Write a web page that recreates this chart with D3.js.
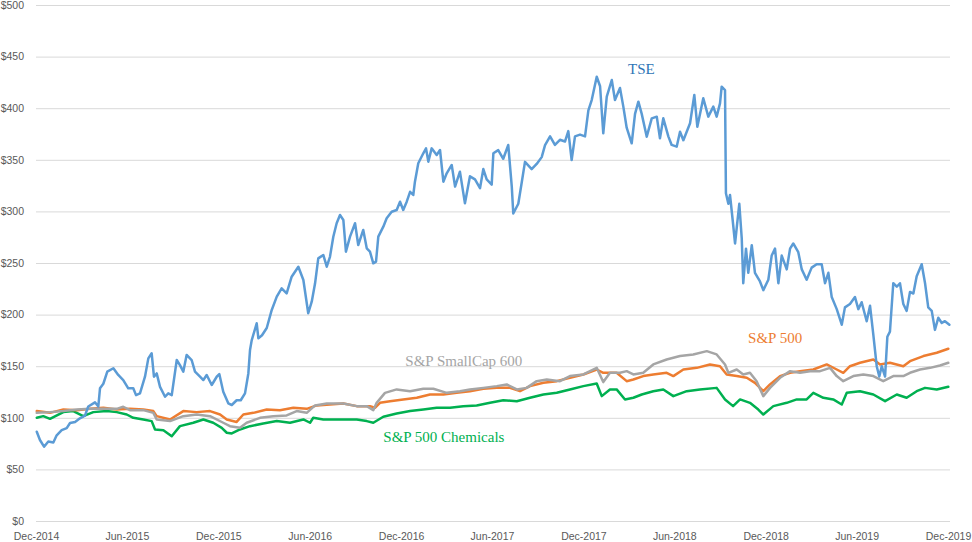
<!DOCTYPE html>
<html>
<head>
<meta charset="utf-8">
<script src="https://cdn.jsdelivr.net/npm/d3@7"></script>
<style>
  body { margin: 0; background: #fff; }
  .tick text { font-family: "Liberation Sans", Arial, sans-serif; font-size: 10.5px; fill: #595959; }
  .series_label { font-family: "Liberation Serif", "Times New Roman", serif; font-size: 15px; }
</style>
</head>
<body>
<svg id="chart" width="972" height="542"></svg>
<script>
// points are [months after Dec-2014, value of $100 invested]
const tse = [
  [0.05,86.5],[0.26,78.5],[0.53,72],[0.81,77],[1.14,76],[1.36,83],[1.69,88],[2.02,90],[2.24,95],[2.57,96],
  [2.89,99.5],[3.22,102],[3.44,111],[3.88,115],[4.10,111],[4.21,128.6],[4.43,133],[4.69,144.7],[5.09,148],
  [5.41,141.5],[5.74,136.6],[6.07,128.6],[6.40,128.6],[6.58,122],[6.84,123.7],[7.17,139.8],[7.39,157.6],
  [7.61,162.5],[7.76,139.8],[7.94,143],[8.16,130],[8.49,120.4],[8.70,123.7],[8.93,122],[9.26,156],[9.47,151],
  [9.69,144.7],[9.91,160.9],[10.24,156],[10.46,144.7],[10.79,139.8],[11.01,136.6],[11.23,141.5],[11.56,131.8],
  [11.89,139.8],[12.06,142.4],[12.32,125.3],[12.65,114],[12.88,112.4],[13.20,117],[13.47,117],[13.75,123.7],
  [13.97,143],[14.08,165.7],[14.19,175],[14.52,191.6],[14.63,177],[14.87,180],[15.18,187],[15.51,204.5],
  [15.84,217.4],[16.16,225.5],[16.49,220.6],[16.82,236.7],[17.26,246.4],[17.59,233.5],[17.91,201.3],
  [18.14,212.5],[18.36,230.3],[18.57,254.5],[18.90,257.8],[19.13,246.4],[19.34,256],[19.56,275.5],
  [19.78,288.5],[20.00,296.5],[20.22,291.7],[20.39,261],[20.66,275.5],[20.99,288.5],[21.20,267.4],
  [21.53,282],[21.76,264.2],[21.97,261],[22.19,249.7],[22.37,251.3],[22.52,275.5],[22.85,285.2],[23.07,293.3],
  [23.40,299.7],[23.73,301.4],[23.95,309.4],[24.16,301.4],[24.39,309.4],[24.61,319],[24.82,315.9],[24.93,328.8],
  [25.15,346.6],[25.48,356.3],[25.66,361.1],[25.81,348.2],[26.03,361.1],[26.36,354.7],[26.58,359.5],
  [26.80,328.8],[27.02,336.9],[27.35,345],[27.57,324],[27.89,338.5],[28.22,307.8],[28.55,334],[28.88,331],
  [29.21,322.5],[29.43,341],[29.65,331],[29.98,326],[30.09,356.3],[30.41,359.4],[30.74,351],[31.07,364.3],
  [31.30,324.2],[31.40,298],[31.73,307.4],[31.95,327.5],[32.17,348],[32.61,341],[32.94,346],[33.27,352.6],
  [33.49,364.3],[33.82,372.7],[34.14,364.4],[34.47,369.4],[34.80,367.7],[35.02,377.8],[35.24,349.8],
  [35.46,372.7],[35.79,374.4],[36.12,372.7],[36.34,397.9],[36.56,407.9],[36.89,430.5],[37.11,421.3],
  [37.32,375.7],[37.55,411.3],[37.88,427.3],[38.09,407.9],[38.42,419.6],[38.64,401.5],[38.86,381.1],
  [39.19,366],[39.41,394.5],[39.63,406.3],[39.85,394.5],[40.18,372.4],[40.51,390.2],[40.84,391.8],
  [41.05,370.8],[41.27,390.2],[41.60,372.7],[41.82,364.4],[42.15,362.7],[42.37,377.2],[42.59,369],
  [43.03,385.4],[43.31,412.8],[43.51,382],[43.90,409.6],[44.23,391.8],[44.56,401.5],[44.78,391.8],
  [45.00,404.7],[45.11,420.8],[45.33,417.6],[45.39,317.5],[45.55,307.4],[45.66,315.8],[45.84,290.7],
  [45.99,268.9],[46.10,284],[46.27,307.4],[46.43,274],[46.53,230.4],[46.71,263.9],[46.86,240.5],
  [47.09,267.3],[47.30,240.5],[47.63,232.1],[47.85,223.7],[48.18,233.8],[48.40,257.2],[48.62,263.9],
  [48.84,230.4],[49.06,257.2],[49.39,243.8],[49.61,263.9],[49.82,268.9],[50.15,260.5],[50.38,243.8],
  [50.70,233.8],[51.03,245.5],[51.36,248.8],[51.69,248.8],[51.91,230.4],[52.13,240.5],[52.35,217],
  [52.68,205.3],[53.01,190.2],[53.22,207],[53.55,210.3],[53.88,217],[54.10,205.3],[54.32,212],[54.65,193.6],
  [54.87,208.6],[55.09,180.2],[55.31,150],[55.48,140],[55.64,150],[55.86,140],[56.01,178.5],[56.18,183.5],
  [56.40,230.4],[56.63,227],[56.84,230.4],[57.06,210.3],[57.28,203.6],[57.50,222],[57.72,220.4],[57.94,237.1],
  [58.27,248.8],[58.49,230.4],[58.70,207],[58.93,203.6],[59.14,185.2],[59.36,196.9],[59.59,191.9],
  [59.80,193.6],[60.09,190.2]
];

const sp500 = [
  [0.05,106.5],[0.92,104.8],[1.80,108],[2.68,107.4],[3.55,108.7],[4.43,109.7],[5.31,108],[6.18,108.7],
  [7.06,108],[7.72,106.5],[7.94,101.6],[8.82,98.4],[9.69,106.5],[10.57,105.5],[11.45,106.5],[12.11,103.2],
  [12.55,98.4],[13.20,96],[13.64,103.2],[14.30,104.8],[15.18,108],[16.05,107.4],[16.93,109.7],[17.81,108.7],
  [18.47,112],[19.34,112.9],[20.22,113.9],[21.10,111.3],[21.97,111.3],[22.30,109.7],[22.63,114.5],
  [23.29,116.1],[24.16,117.8],[25.05,119.4],[25.92,122.6],[26.80,122.6],[27.68,124.2],[28.55,125.8],
  [29.43,128.1],[30.31,129],[31.18,129],[31.84,125.8],[32.50,130.7],[33.38,133.9],[34.26,135.5],
  [35.13,138.8],[36.01,142],[36.89,146.8],[37.32,143.6],[38.20,143.6],[38.86,135.5],[39.30,137.1],
  [39.95,140.4],[40.61,142],[41.49,143.6],[41.93,140.4],[42.59,146.8],[43.47,148.4],[44.34,151.7],
  [45.00,150],[45.44,142],[46.10,140.4],[46.76,138.8],[47.30,133.9],[47.85,125.8],[48.29,132.3],
  [48.95,140.4],[49.61,143.6],[50.26,145.2],[51.14,146.8],[52.02,151.7],[52.68,146.8],[53.11,143.6],
  [53.55,150],[54.21,153.3],[55.09,156.5],[55.53,151.7],[56.18,153.3],[57.06,150],[57.50,154.9],
  [58.38,159.8],[59.26,163],[60.02,166.9]
];

const smallCap600 = [
  [0.05,104.8],[0.92,105.5],[1.80,106.5],[2.68,108],[3.55,108.7],[4.43,108.7],[5.31,108.7],[5.74,110.7],
  [6.18,107.4],[7.06,107.4],[7.72,104.8],[7.94,98.4],[8.82,96.8],[9.69,101.6],[10.57,103.2],[11.45,101.6],
  [12.32,95.2],[12.76,91.9],[13.42,90.3],[13.86,95.2],[14.74,100],[15.61,101.6],[16.49,102.3],[17.15,106.5],
  [17.81,104.8],[18.36,112],[19.13,113.9],[20.22,113.9],[21.10,111.3],[21.76,111.3],[22.19,107.4],
  [22.41,114.5],[22.96,124.2],[23.73,127.5],[24.61,125.8],[25.48,128.1],[26.14,128.1],[27.02,124.2],
  [27.89,125.8],[28.55,127.5],[29.43,129],[30.31,130.7],[30.97,132.3],[31.63,127.5],[32.28,129],
  [32.94,135.5],[33.60,137.1],[34.47,135.5],[35.13,140.4],[36.01,142],[36.89,148.4],[37.32,134.6],
  [37.76,143.6],[38.42,143.6],[38.86,145.2],[39.30,142],[39.95,143.6],[40.61,151.7],[41.49,156.5],
  [42.37,159.8],[43.24,161.4],[44.13,164.6],[44.78,161.4],[45.33,151.7],[45.55,143.6],[46.10,146.8],
  [46.53,142],[46.97,143.6],[47.41,135.5],[47.85,121],[48.29,129],[48.95,138.8],[49.61,145.2],[50.26,143.6],
  [50.92,145.2],[51.58,145.2],[52.24,148.4],[52.68,140.4],[53.11,135.5],[53.77,140.4],[54.43,142],
  [55.09,140.4],[55.74,135.5],[56.40,140.4],[57.06,140.4],[57.50,143.6],[58.16,146.8],[58.82,148.4],
  [59.47,150.7],[60.02,153.3]
];

const chemicals500 = [
  [0.05,100],[0.48,101.6],[0.92,99],[1.80,105.5],[2.45,106.5],[3.11,101.6],[3.77,105.5],[4.65,106.5],
  [5.31,105.5],[5.97,103.2],[6.40,100],[7.06,98.4],[7.61,96.8],[7.83,88.7],[8.38,88],[8.93,82.2],[9.47,91.9],
  [10.35,95.2],[11.01,98.4],[11.66,95.2],[12.22,90.3],[12.55,85.5],[12.88,84.8],[13.42,88.7],[14.08,91.9],
  [14.95,94.5],[15.84,96.8],[16.71,95.2],[17.59,98.4],[18.03,95.2],[18.24,100],[18.90,98.4],[20.22,98.4],
  [21.10,98.4],[21.76,96.8],[22.19,95.2],[22.85,101],[23.73,104.2],[24.61,106.5],[25.48,108],[26.36,109.7],
  [27.24,109.7],[28.11,111.3],[28.99,112],[29.87,114.5],[30.74,117.1],[31.63,116.1],[32.50,119.4],
  [33.38,122.6],[34.26,124.2],[35.13,127.5],[36.01,130.7],[36.89,133.3],[37.22,121],[37.76,127.5],
  [38.20,127.5],[38.75,117.8],[39.30,119.4],[39.85,122.6],[40.61,125.8],[41.27,127.5],[41.93,121],
  [42.81,125.8],[43.68,127.5],[44.78,129],[45.33,117.8],[45.86,111.3],[46.32,117.8],[46.97,114.5],
  [47.52,108],[47.85,103.2],[48.51,111.3],[49.39,114.5],[50.05,117.8],[50.70,117.8],[51.14,124.2],
  [51.80,119.4],[52.45,117.8],[53.01,112.9],[53.34,124.2],[54.21,125.8],[55.09,122.6],[55.86,116.1],
  [56.63,122.6],[57.28,119.4],[57.94,125.8],[58.49,129],[59.26,127.5],[60.02,130]
];

const yTicks = [0, 50, 100, 150, 200, 250, 300, 350, 400, 450, 500];
const tickLabels = ["Dec-2014", "Jun-2015", "Dec-2015", "Jun-2016", "Dec-2016", "Jun-2017",
  "Dec-2017", "Jun-2018", "Dec-2018", "Jun-2019", "Dec-2019"];

const start = new Date(2014, 11, 1);
const end = new Date(2019, 11, 1);
const monthMs = (end - start) / 60;
const toDate = (m) => new Date(start.getTime() + m * monthMs);

const svg = d3.select("#chart");

const x = d3.scaleTime().domain([start, end]).range([36, 948]);
const y = d3.scaleLinear().domain([0, 500]).range([521, 5]);

// Horizontal gridlines with dollar labels
const yAxis = svg.append("g")
  .attr("transform", "translate(36,0)")
  .call(d3.axisLeft(y).tickValues(yTicks).tickSize(-914).tickPadding(12).tickFormat((d) => "$" + d));
yAxis.select(".domain").remove();
yAxis.selectAll(".tick line").attr("stroke", "#d9d9d9").attr("stroke-width", 1);

// Month labels along the bottom
const tickDates = d3.timeMonth.range(start, d3.timeDay.offset(end, 1), 6);
const xAxis = svg.append("g")
  .attr("transform", "translate(0,521)")
  .call(d3.axisBottom(x).tickValues(tickDates).tickSize(0).tickPadding(12).tickFormat((d, i) => tickLabels[i]));
xAxis.select(".domain").remove();

const line = d3.line()
  .x((d) => x(toDate(d[0])))
  .y((d) => y(d[1]));

const seriesList = [
  { data: chemicals500, color: "#00b050" },
  { data: sp500, color: "#ed7d31" },
  { data: smallCap600, color: "#a5a5a5" },
  { data: tse, color: "#5b9bd5" },
];

svg.append("g")
  .selectAll("path")
  .data(seriesList)
  .enter()
  .append("path")
  .attr("d", (s) => line(s.data))
  .attr("fill", "none")
  .attr("stroke", (s) => s.color)
  .attr("stroke-width", 2.5)
  .attr("stroke-linejoin", "round")
  .attr("stroke-linecap", "round");

// Series name labels placed next to their lines
const labels = [
  { text: "TSE", m: 38.95, v: 433, color: "#2e75b6" },
  { text: "S&P 500", m: 46.85, v: 172, color: "#ed7d31" },
  { text: "S&P SmallCap 600", m: 24.3, v: 150, color: "#a5a5a5" },
  { text: "S&P 500 Chemicals", m: 22.85, v: 76.5, color: "#00b050" },
];

svg.append("g")
  .selectAll("text")
  .data(labels)
  .enter()
  .append("text")
  .attr("class", "series_label")
  .attr("x", (d) => x(toDate(d.m)))
  .attr("y", (d) => y(d.v))
  .attr("fill", (d) => d.color)
  .text((d) => d.text);
</script>
</body>
</html>
